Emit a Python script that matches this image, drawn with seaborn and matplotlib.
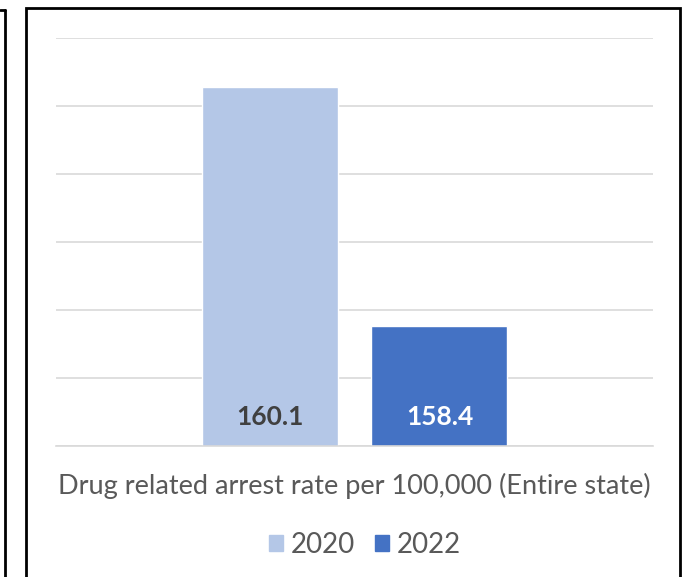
import matplotlib
matplotlib.use("Agg")
import matplotlib.pyplot as plt
import matplotlib.patches as mpatches
import matplotlib.lines as mlines
import seaborn as sns

years = ["2020", "2022"]
rates = [160.14, 158.38]
rate_labels = ["160.1", "158.4"]
colours = ["#b4c7e7", "#4472c4"]
label_colours = ["#404040", "#ffffff"]
category = "Drug related arrest rate per 100,000 (Entire state)"

sns.set_theme(style="white")
plt.rcParams['font.family'] = ['Lato', 'DejaVu Sans']

fig = plt.figure(figsize=(6.9, 5.77), dpi=100)
ax = fig.add_axes([56/690, 131.4/577, 597/690, 407.6/577])

sns.barplot(x=years, y=rates, hue=years, palette=colours, width=0.8,
            dodge=False, legend=False, saturation=1, ax=ax)

ax.set_ylim(157.5, 160.5)
ax.set_xlim(-1.256, 2.256)
ax.set_yticks([157.5 + 0.5*i for i in range(7)])
ax.yaxis.grid(True, color="#d9d9d9", linewidth=1.2)
ax.set_axisbelow(True)
ax.set_xticks([])
ax.tick_params(left=False, labelleft=False)
for s in ["top", "left", "right"]:
  ax.spines[s].set_visible(False)
ax.spines["bottom"].set_color("#d9d9d9")
ax.spines["bottom"].set_linewidth(1.2)

# value labels inside bars, near bottom
for i, (lab, col) in enumerate(zip(rate_labels, label_colours)):
  ax.text(i, 157.5 + 29/136, lab, ha="center", va="center",
          fontsize=19, fontweight="bold", color=col)

ax.set_xlabel(category, fontsize=19.5, color="#595959")
ax.xaxis.label.set_va("center")
ax.xaxis.set_label_coords(0.5, -40/407.6)

handles = [mpatches.Patch(color=c, label=y) for c, y in zip(colours, years)]
fig.legend(handles=handles, loc="center", bbox_to_anchor=(365/690, 32/577),
           ncol=2, frameon=False, fontsize=20, labelcolor="#595959",
           handlelength=0.5, handleheight=0.5, handletextpad=0.3, columnspacing=0.7)

# chart frame + edge of neighbouring box
fig.add_artist(mpatches.Rectangle((26/690, -0.01), 654/690, (577-8)/577 + 0.01,
                                  transform=fig.transFigure, fill=False,
                                  edgecolor="black", linewidth=2))
fig.add_artist(mlines.Line2D([5/690, 5/690], [0, (577-10)/577],
                             transform=fig.transFigure, color="black", linewidth=2))
fig.add_artist(mlines.Line2D([0, 5/690], [(577-10)/577, (577-10)/577],
                             transform=fig.transFigure, color="black", linewidth=2))

fig.savefig("out.png", dpi=100)
